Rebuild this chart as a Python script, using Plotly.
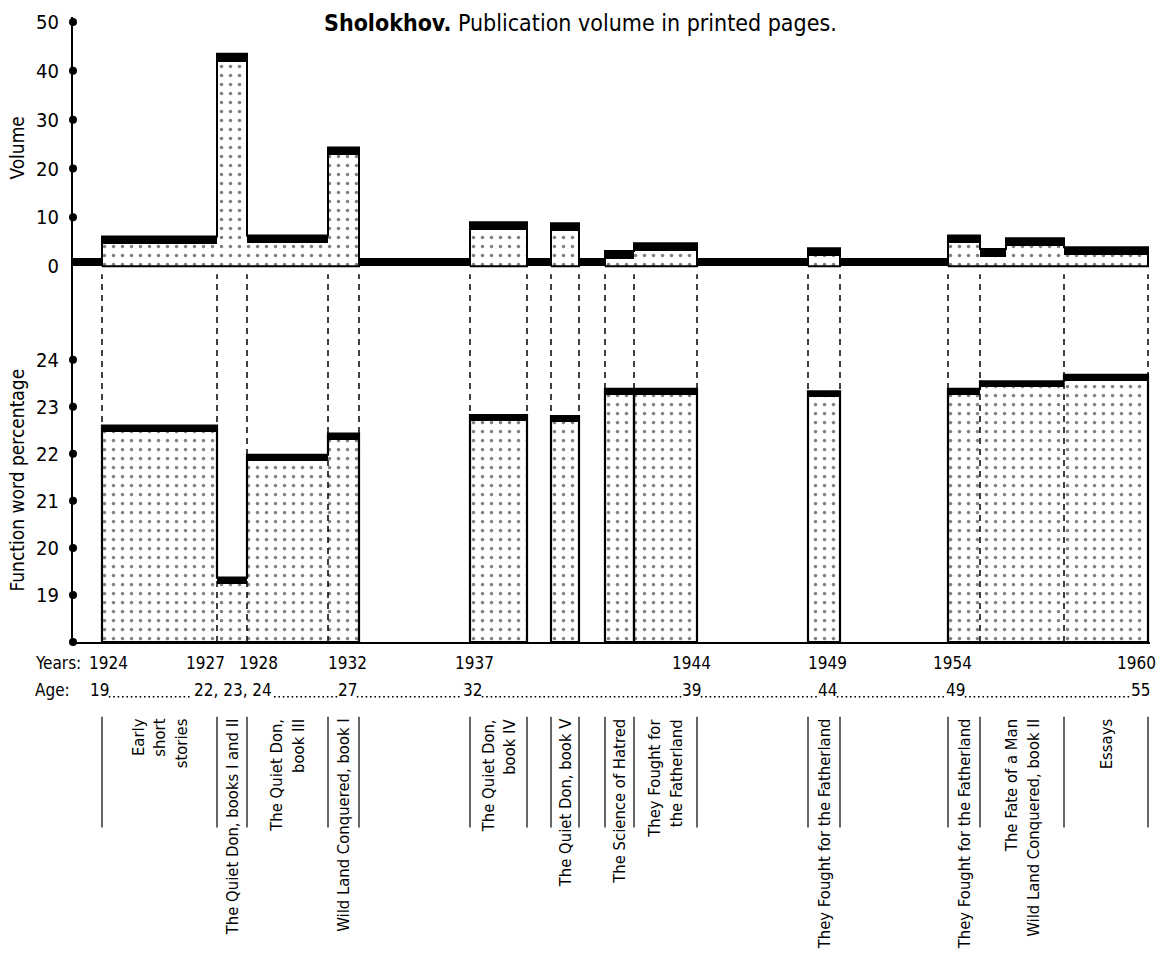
import plotly.graph_objects as go

# ------------------------------------------------------------------ data
# Schematic timeline position of each publication segment (lower panel)
seg_left = [29, 144, 174, 255, 397, 478, 532, 561, 735, 875, 907, 991]
seg_right = [144, 174, 255, 286, 454, 506, 561, 624, 767, 907, 991, 1075]
fw_pct = [22.60, 19.37, 21.98, 22.43, 22.82, 22.80, 23.38, 23.38, 23.33, 23.38, 23.54, 23.68]
fw_group = [0, 0, 0, 0, 1, 2, 3, 4, 5, 6, 6, 6]
seg_labels = [
    "Early<br>short<br>stories",
    "The Quiet Don, books I and II",
    "The Quiet Don,<br>book III",
    "Wild Land Conquered, book I",
    "The Quiet Don,<br>book IV",
    "The Quiet Don, book V",
    "The Science of Hatred",
    "They Fought for<br>the Fatherland",
    "They Fought for the Fatherland",
    "They Fought for the Fatherland",
    "The Fate of a Man<br>Wild Land Conquered, book II",
    "Essays",
]

# Publication volume (printed pages), upper panel, 0 = no publication
vol_left = [0, 29, 144, 174, 255, 286, 397, 454, 478, 506, 532, 561, 624, 735, 767, 875, 907, 933, 991]
vol_right = [29, 144, 174, 255, 286, 397, 454, 478, 506, 532, 561, 624, 735, 767, 875, 907, 933, 991, 1075]
volume = [0, 6.1, 43.5, 6.3, 24.3, 0, 9.0, 0, 8.8, 0, 3.1, 4.7, 0, 3.7, 0, 6.3, 3.5, 5.7, 3.9]

year_labels = ["1924", "1927", "1928", "1932", "1937", "1944", "1949", "1954", "1960"]
year_pos = [35, 132, 185, 274, 401, 618, 754, 879, 1063]
age_labels = ["19", "22, 23, 24", "27", "32", "39", "44", "49", "55"]
age_pos = [26, 160, 274, 399, 618, 754, 882, 1067]

vol_ticks = [0, 10, 20, 30, 40, 50]
fw_ticks = [19, 20, 21, 22, 23, 24]

# ------------------------------------------------------------------ geometry / style
FONT = "Liberation Sans Narrow, DejaVu Sans Condensed, Arial Narrow, sans-serif"
W, H = 1160, 959
L, R, T = 73, 10, 15
PLOT_BOTTOM = 642          # page row of the lower x axis
SPLIT = 300                # page row where the two panels meet
PH = PLOT_BOTTOM - T


def py(row):
    """paper y coordinate of a page pixel row"""
    return (PLOT_BOTTOM - row) / PH


X_RANGE = [0, 1077]
K_TOP = (265 - 20) / 50.0
TOP_RANGE = [-(SPLIT - 265) / K_TOP, (265 - T) / K_TOP]
K_LOW = (596 - 360) / 5.0
LOW_RANGE = [18, 18 + (PLOT_BOTTOM - SPLIT) / K_LOW]
BAND_LOW = 0.13
BAND_TOP = 1.6

pattern = dict(shape=".", fgcolor="black", bgcolor="white", size=9, solidity=0.12)

fig = go.Figure()


def centers(lefts, rights):
    return [(a + b) / 2 for a, b in zip(lefts, rights)]


def widths(lefts, rights):
    return [b - a for a, b in zip(lefts, rights)]


def outline(lefts, rights, tops, base):
    xs, ys = [lefts[0]], [base]
    for a, b, t in zip(lefts, rights, tops):
        xs += [a, b]
        ys += [t, t]
    xs += [rights[-1], lefts[0]]
    ys += [base, base]
    return xs, ys


# ---- lower panel: function word percentage
fig.add_trace(go.Bar(
    x=centers(seg_left, seg_right), width=widths(seg_left, seg_right),
    base=[LOW_RANGE[0]] * len(fw_pct), y=[v - BAND_LOW - LOW_RANGE[0] for v in fw_pct],
    marker=dict(color="white", pattern=pattern, line=dict(width=0)),
    xaxis="x", yaxis="y", hoverinfo="skip", showlegend=False))
fig.add_trace(go.Bar(
    x=centers(seg_left, seg_right), width=widths(seg_left, seg_right),
    base=[v - BAND_LOW for v in fw_pct], y=[BAND_LOW] * len(fw_pct),
    marker=dict(color="black", line=dict(width=0)),
    xaxis="x", yaxis="y", hoverinfo="skip", showlegend=False))
for g in sorted(set(fw_group)):
    idx = [i for i, gg in enumerate(fw_group) if gg == g]
    xs, ys = outline([seg_left[i] for i in idx], [seg_right[i] for i in idx],
                     [fw_pct[i] for i in idx], LOW_RANGE[0])
    fig.add_trace(go.Scatter(x=xs, y=ys, mode="lines", line=dict(color="black", width=2.2),
                             xaxis="x", yaxis="y", hoverinfo="skip", showlegend=False))

# ---- upper panel: volume
fig.add_trace(go.Bar(
    x=centers(vol_left, vol_right), width=widths(vol_left, vol_right),
    base=[0] * len(volume), y=[max(v - BAND_TOP, 0) for v in volume],
    marker=dict(color="white", pattern=pattern, line=dict(width=0)),
    xaxis="x", yaxis="y2", hoverinfo="skip", showlegend=False))
fig.add_trace(go.Bar(
    x=centers(vol_left, vol_right), width=widths(vol_left, vol_right),
    base=[max(v - BAND_TOP, 0) for v in volume], y=[BAND_TOP] * len(volume),
    marker=dict(color="black", line=dict(width=0)),
    xaxis="x", yaxis="y2", hoverinfo="skip", showlegend=False))
# outlines of contiguous published runs
runs, cur = [], []
for i, v in enumerate(volume):
    if v > 0:
        cur.append(i)
    elif cur:
        runs.append(cur)
        cur = []
if cur:
    runs.append(cur)
for run in runs:
    xs, ys = outline([vol_left[i] for i in run], [vol_right[i] for i in run],
                     [volume[i] for i in run], 0)
    fig.add_trace(go.Scatter(x=xs, y=ys, mode="lines", line=dict(color="black", width=2),
                             xaxis="x", yaxis="y2", hoverinfo="skip", showlegend=False))

# ---- axis dots
fig.add_trace(go.Scatter(x=[X_RANGE[0]] * (len(vol_ticks) - 1), y=vol_ticks[1:], mode="markers",
                         marker=dict(color="black", size=8), cliponaxis=False,
                         xaxis="x", yaxis="y2", hoverinfo="skip", showlegend=False))
fig.add_trace(go.Scatter(x=[X_RANGE[0]] * (len(fw_ticks) + 1), y=[LOW_RANGE[0]] + fw_ticks, mode="markers",
                         marker=dict(color="black", size=8), cliponaxis=False,
                         xaxis="x", yaxis="y", hoverinfo="skip", showlegend=False))

shapes = []
# dashed connectors between panels
edges = sorted(set(seg_left + seg_right))
for e in edges:
    shapes.append(dict(type="line", xref="x", yref="paper", x0=e, x1=e, y0=py(PLOT_BOTTOM), y1=py(273),
                       line=dict(color="black", width=1.5, dash="6px,5px"), layer="above"))
# separators in the title block
for e in edges:
    shapes.append(dict(type="line", xref="x", yref="paper", x0=e, x1=e, y0=py(717), y1=py(828),
                       line=dict(color="black", width=1.2)))

annotations = []
# title
annotations.append(dict(xref="paper", yref="paper", x=(580 - L) / (W - L - R), y=py(21),
                        text="<b>Sholokhov.</b> Publication volume in printed pages.",
                        showarrow=False, xanchor="center", yanchor="middle",
                        font=dict(family=FONT, size=23, color="black")))
annotations.append(dict(xref="paper", yref="paper", x=0, xshift=-56, y=py(147), text="Volume",
                        textangle=-90, showarrow=False, xanchor="center", yanchor="middle",
                        font=dict(family=FONT, size=19, color="black")))
annotations.append(dict(xref="paper", yref="paper", x=0, xshift=-56, y=py(480),
                        text="Function word percentage", textangle=-90, showarrow=False,
                        xanchor="center", yanchor="middle",
                        font=dict(family=FONT, size=19, color="black")))
# years row
annotations.append(dict(xref="paper", yref="paper", x=0, xshift=-40, y=py(663), text="Years:",
                        showarrow=False, xanchor="left", yanchor="middle",
                        font=dict(family=FONT, size=17, color="black")))
for t, p in zip(year_labels, year_pos):
    annotations.append(dict(xref="x", yref="paper", x=p, y=py(663), text=t, showarrow=False,
                            xanchor="center", yanchor="middle",
                            font=dict(family=FONT, size=17, color="black")))
# age row
annotations.append(dict(xref="paper", yref="paper", x=0, xshift=-40, y=py(690), text="Age:",
                        showarrow=False, xanchor="left", yanchor="middle",
                        font=dict(family=FONT, size=17, color="black")))
half = []
for t, p in zip(age_labels, age_pos):
    annotations.append(dict(xref="x", yref="paper", x=p, y=py(690), text=t, showarrow=False,
                            xanchor="center", yanchor="middle",
                            font=dict(family=FONT, size=17, color="black")))
    half.append(len(t) * 3.9 + 2)
for i in range(len(age_pos) - 1):
    shapes.append(dict(type="line", xref="x", yref="paper",
                       x0=age_pos[i] + half[i], x1=age_pos[i + 1] - half[i + 1],
                       y0=py(697), y1=py(697),
                       line=dict(color="black", width=1.6, dash="1.6px,2.8px")))
# rotated publication labels
for t, c in zip(seg_labels, centers(seg_left, seg_right)):
    annotations.append(dict(xref="x", yref="paper", x=c, y=py(717), text=t, textangle=-90,
                            showarrow=False, xanchor="center", yanchor="top", align="right",
                            font=dict(family=FONT, size=16.5, color="black")))

fig.update_layout(
    width=W, height=H, margin=dict(l=L, r=R, t=T, b=H - PLOT_BOTTOM, pad=0),
    paper_bgcolor="white", plot_bgcolor="white", barmode="overlay", bargap=0,
    xaxis=dict(range=X_RANGE, domain=[0, 1], anchor="y", showgrid=False, zeroline=False,
               showline=True, linecolor="black", linewidth=2, showticklabels=False, ticks=""),
    yaxis=dict(range=LOW_RANGE, domain=[0, py(SPLIT)], anchor="x", showgrid=False, zeroline=False,
               showline=True, linecolor="black", linewidth=2, tickvals=fw_ticks,
               ticktext=[str(v) for v in fw_ticks], ticks="", ticklabelstandoff=8,
               tickfont=dict(family=FONT, size=20, color="black")),
    yaxis2=dict(range=TOP_RANGE, domain=[py(SPLIT), 1], anchor="x", showgrid=False, zeroline=False,
                showline=True, linecolor="black", linewidth=2, tickvals=vol_ticks,
                ticktext=[str(v) for v in vol_ticks], ticks="", ticklabelstandoff=8,
                tickfont=dict(family=FONT, size=20, color="black")),
    shapes=shapes, annotations=annotations,
)

fig.write_html("out.html")
